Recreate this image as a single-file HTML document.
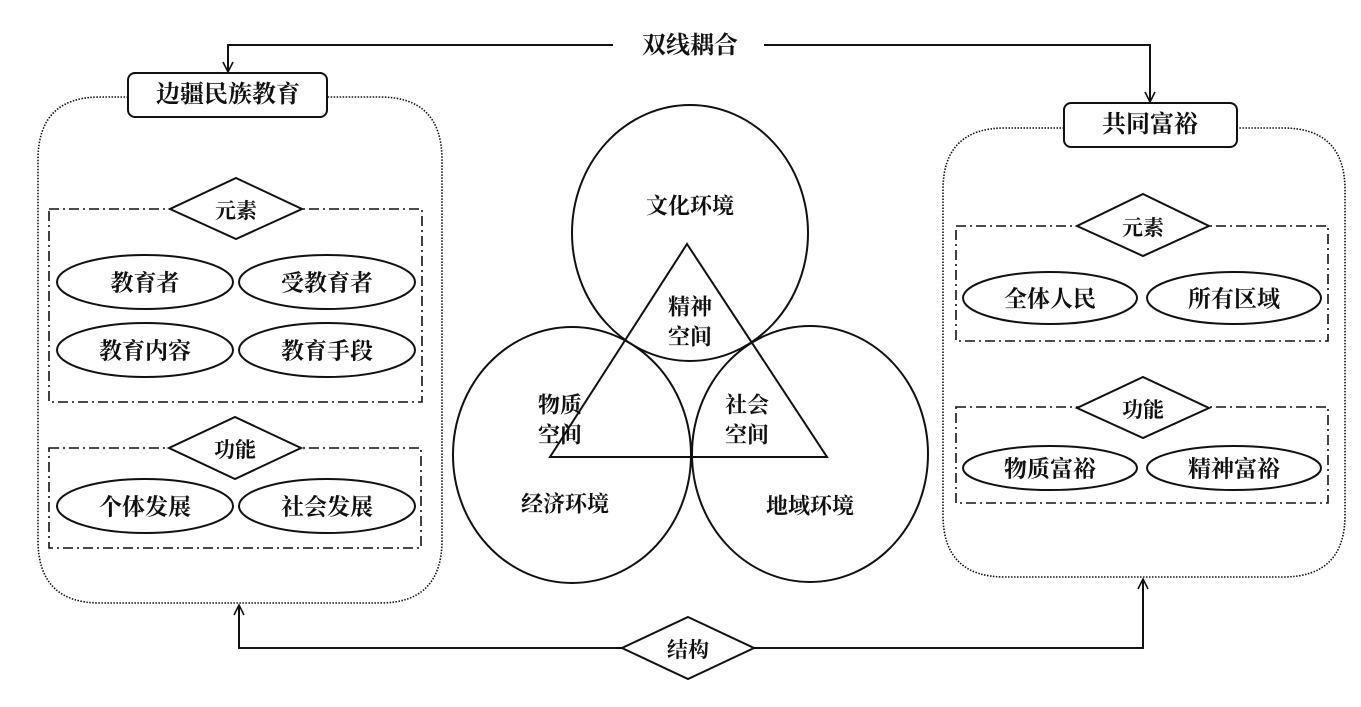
<!DOCTYPE html>
<html><head><meta charset="utf-8"><style>
html,body{margin:0;padding:0;background:#fff}
svg text{font-family:"Liberation Serif","Noto Serif CJK SC","Noto Sans CJK SC",serif;fill:#111;text-anchor:middle;dominant-baseline:central}
</style></head><body>
<svg width="1361" height="702" viewBox="0 0 1361 702" xmlns="http://www.w3.org/2000/svg">
<g fill="none" stroke="#111" stroke-width="2">
<!-- top connector -->
<polyline points="613,45 228,45 228,72"/>
<polyline points="223,62 228,72 233,62" stroke-width="1.6"/>
<polyline points="764,45 1150,45 1150,102"/>
<polyline points="1145,92 1150,102 1155,92" stroke-width="1.6"/>
<!-- bottom connector -->
<polyline points="622,648 239,648 239,605"/>
<polyline points="234,615 239,605 244,615" stroke-width="1.6"/>
<polyline points="754,648 1143,648 1143,579"/>
<polyline points="1138,589 1143,579 1148,589" stroke-width="1.6"/>
<polygon points="688,617 754,648 688,679 622,648" fill="#fff"/>
<!-- big dotted boxes -->
<path d="M128,97 H100 Q38,97 38,160 V540 Q38,603 100,603 H380 Q442,603 442,540 V160 Q442,97 380,97 H327" stroke-width="1.6" stroke-dasharray="1.5 1.5"/>
<path d="M1064,128 H1005 Q943,128 943,190 V515 Q943,577 1005,577 H1283 Q1345,577 1345,515 V190 Q1345,128 1283,128 H1237" stroke-width="1.6" stroke-dasharray="1.5 1.5"/>
<rect x="128" y="73" width="199" height="44" rx="7"/>
<rect x="1064" y="103" width="173" height="44" rx="7"/>
<!-- dash-dot boxes -->
<g stroke-width="1.6" stroke-dasharray="10 4 2 4">
<rect x="49" y="209" width="373" height="193"/>
<rect x="49" y="448" width="372" height="100"/>
<rect x="956" y="226" width="372" height="115"/>
<rect x="956" y="407" width="372" height="96"/>
</g>
<polygon points="236,178 302,209 236,239 170,209" fill="#fff"/>
<polygon points="235,417 301,448 235,479 169,448" fill="#fff"/>
<polygon points="1143,194 1209,226 1143,256 1077,226" fill="#fff"/>
<polygon points="1143,377 1209,408 1143,438 1077,408" fill="#fff"/>
<!-- ellipses -->
<ellipse cx="145" cy="282" rx="88" ry="27"/>
<ellipse cx="327" cy="282" rx="88" ry="27"/>
<ellipse cx="145" cy="350" rx="88" ry="27"/>
<ellipse cx="327" cy="350" rx="88" ry="27"/>
<ellipse cx="145" cy="506" rx="88" ry="27"/>
<ellipse cx="327" cy="506" rx="88" ry="27"/>
<ellipse cx="1050" cy="298" rx="87" ry="26"/>
<ellipse cx="1234" cy="298" rx="87" ry="26"/>
<ellipse cx="1050" cy="468" rx="87" ry="22"/>
<ellipse cx="1234" cy="468" rx="87" ry="22"/>
<!-- circles -->
<ellipse cx="690" cy="233" rx="118" ry="128"/>
<ellipse cx="572" cy="455" rx="119" ry="128"/>
<ellipse cx="810" cy="454" rx="118" ry="128"/>
<polygon points="687,244 827,457 550,457"/>
</g>
<g font-size="24" font-weight="bold">
<text x="690" y="46">双线耦合</text>
<text x="228" y="95">边疆民族教育</text>
<text x="1150" y="125">共同富裕</text>
</g>
<g font-size="21" font-weight="bold">
<text x="236" y="211">元素</text>
<text x="235" y="450">功能</text>
<text x="1143" y="228">元素</text>
<text x="1143" y="410">功能</text>
<text x="688" y="650">结构</text>
</g>
<g font-size="23" font-weight="bold">
<text x="145" y="283">教育者</text>
<text x="327" y="283">受教育者</text>
<text x="145" y="351">教育内容</text>
<text x="327" y="351">教育手段</text>
<text x="145" y="507">个体发展</text>
<text x="327" y="507">社会发展</text>
<text x="1050" y="299">全体人民</text>
<text x="1234" y="299">所有区域</text>
<text x="1050" y="469">物质富裕</text>
<text x="1234" y="469">精神富裕</text>
</g>
<g font-size="22" font-weight="bold">
<text x="690" y="206">文化环境</text>
<text x="690" y="307">精神</text>
<text x="690" y="337">空间</text>
<text x="560" y="405">物质</text>
<text x="560" y="435">空间</text>
<text x="747" y="405">社会</text>
<text x="747" y="435">空间</text>
<text x="565" y="504">经济环境</text>
<text x="810" y="506">地域环境</text>
</g>
</svg>
</body></html>
